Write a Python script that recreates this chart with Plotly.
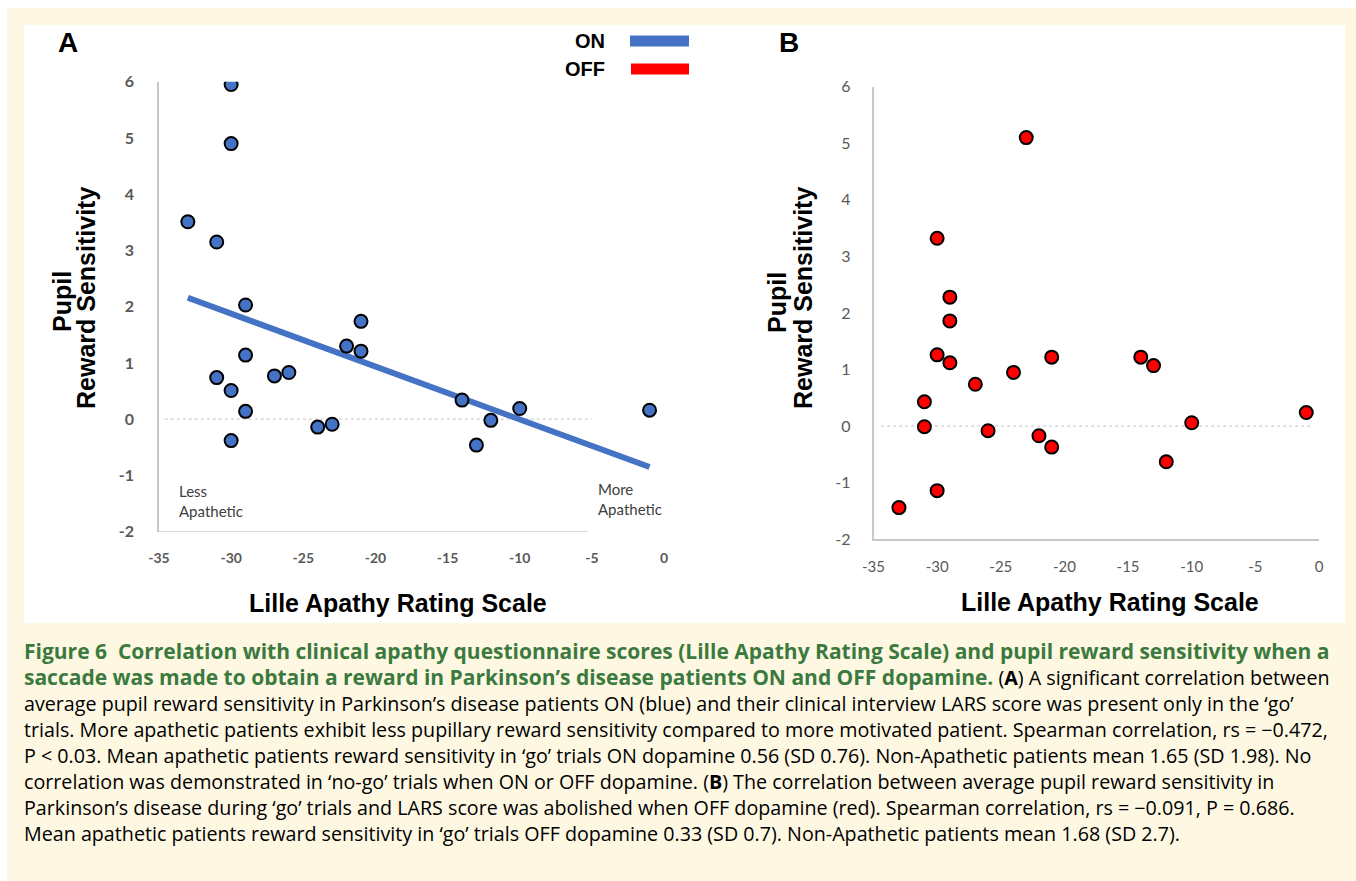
import plotly.graph_objects as go

W, H = 1356, 881

# ---------------- data ----------------
lars_on = [-30, -30, -33, -31, -29, -29, -31, -30, -29, -30, -27, -26, -24, -23, -22, -21, -21, -14, -13, -12, -10, -1]
pupil_on = [5.95, 4.9, 3.51, 3.15, 2.03, 1.14, 0.74, 0.51, 0.14, -0.38, 0.77, 0.83, -0.14, -0.09, 1.30, 1.74, 1.21, 0.34, -0.46, -0.02, 0.19, 0.16]

lars_off = [-23, -30, -29, -29, -30, -29, -27, -24, -21, -14, -13, -31, -31, -26, -22, -21, -12, -10, -1, -30, -33]
pupil_off = [5.10, 3.32, 2.28, 1.86, 1.26, 1.12, 0.74, 0.95, 1.22, 1.22, 1.07, 0.43, -0.01, -0.08, -0.17, -0.37, -0.63, 0.06, 0.24, -1.14, -1.44]

fit_on_x = [-33, -1]
fit_on_y = [2.16, -0.85]

x_tickvals = [-35, -30, -25, -20, -15, -10, -5, 0]
x_ticktext = ["-35", "-30", "-25", "-20", "-15", "-10", "-5", "0"]
y_tickvals = [-2, -1, 0, 1, 2, 3, 4, 5, 6]
y_ticktext = ["-2", "-1", "0", "1", "2", "3", "4", "5", "6"]

x_title = "Lille Apathy Rating Scale"
y_title_1 = "Pupil"
y_title_2 = "Reward Sensitivity"

GREEN = "#3b7a3f"
TSIZE = 21
BSIZE = 19.7
caption_lines = [
    f"<b><span style='color:{GREEN}'>Figure 6  Correlation with clinical apathy questionnaire scores (Lille Apathy Rating Scale) and pupil reward sensitivity when a</span></b>",
    f"<b><span style='color:{GREEN};font-size:{TSIZE}px'>saccade was made to obtain a reward in Parkinson’s disease patients ON and OFF dopamine.</span></b> (<b>A</b>) A significant correlation between",
    "average pupil reward sensitivity in Parkinson’s disease patients ON (blue) and their clinical interview LARS score was present only in the ‘go’",
    "trials. More apathetic patients exhibit less pupillary reward sensitivity compared to more motivated patient. Spearman correlation, rs = −0.472,",
    "P &lt; 0.03. Mean apathetic patients reward sensitivity in ‘go’ trials ON dopamine 0.56 (SD 0.76). Non-Apathetic patients mean 1.65 (SD 1.98). No",
    "correlation was demonstrated in ‘no-go’ trials when ON or OFF dopamine. (<b>B</b>) The correlation between average pupil reward sensitivity in",
    "Parkinson’s disease during ‘go’ trials and LARS score was abolished when OFF dopamine (red). Spearman correlation, rs = −0.091, P = 0.686.",
    "Mean apathetic patients reward sensitivity in ‘go’ trials OFF dopamine 0.33 (SD 0.7). Non-Apathetic patients mean 1.68 (SD 2.7).",
]

BLUE = "#4472c4"
RED = "#ff0000"
CREAM = "#fef8e2"
AXIS_GRAY = "#c8c8c8"
TICK_GRAY = "#595959"


def px(x):
    return x / W


def py(y):
    return 1 - y / H


fig = go.Figure()

# Panel A
fig.add_trace(go.Scatter(x=fit_on_x, y=fit_on_y, mode="lines",
                         line=dict(color=BLUE, width=6), xaxis="x", yaxis="y",
                         showlegend=False, hoverinfo="skip"))
fig.add_trace(go.Scatter(x=lars_on, y=pupil_on, mode="markers",
                         marker=dict(color=BLUE, size=13, line=dict(color="black", width=2)),
                         xaxis="x", yaxis="y", showlegend=False))
# Panel B
fig.add_trace(go.Scatter(x=lars_off, y=pupil_off, mode="markers",
                         marker=dict(color=RED, size=13, line=dict(color="black", width=2)),
                         xaxis="x2", yaxis="y2", showlegend=False))

axA_x = dict(domain=[px(159), px(664)], range=[-35, 0], tickvals=x_tickvals, ticktext=x_ticktext,
             showgrid=False, zeroline=False, showline=False, ticks="outside", ticklen=13,
             tickcolor="rgba(0,0,0,0)", tickfont=dict(family="Lato", size=14, color=TICK_GRAY, weight="bold"),
             anchor="y", fixedrange=True, automargin=False)
axA_y = dict(domain=[py(531.7), py(81.7)], range=[-2, 6], tickvals=y_tickvals, ticktext=y_ticktext,
             showgrid=False, zeroline=False, showline=True, linecolor=AXIS_GRAY, linewidth=1.5,
             ticks="outside", ticklen=20, tickcolor="rgba(0,0,0,0)",
             tickfont=dict(family="Lato", size=16, color=TICK_GRAY, weight="bold"), anchor="x",
             fixedrange=True, automargin=False)
axB_x = dict(domain=[px(873.5), px(1319)], range=[-35, 0], tickvals=x_tickvals, ticktext=x_ticktext,
             showgrid=False, zeroline=False, showline=True, linecolor=AXIS_GRAY, linewidth=1.5,
             ticks="outside", ticklen=13, tickcolor="rgba(0,0,0,0)",
             tickfont=dict(family="Lato", size=15, color=TICK_GRAY), anchor="y2", fixedrange=True,
             automargin=False)
axB_y = dict(domain=[py(539.3), py(86.7)], range=[-2, 6], tickvals=y_tickvals, ticktext=y_ticktext,
             showgrid=False, zeroline=False, showline=True, linecolor=AXIS_GRAY, linewidth=1.5,
             ticks="outside", ticklen=18, tickcolor="rgba(0,0,0,0)",
             tickfont=dict(family="Lato", size=16, color=TICK_GRAY), anchor="x2", fixedrange=True,
             automargin=False)

shapes = [
    # cream background + white panel
    dict(type="rect", xref="paper", yref="paper", x0=px(7), x1=px(1356), y0=py(881), y1=py(8),
         fillcolor=CREAM, line=dict(width=0), layer="below"),
    dict(type="rect", xref="paper", yref="paper", x0=px(24), x1=px(1345), y0=py(623), y1=py(25),
         fillcolor="white", line=dict(width=0), layer="below"),
    # panel A x axis line (stops short of 0)
    dict(type="line", xref="x", yref="y", x0=-35, x1=-5.3, y0=-2, y1=-2,
         line=dict(color=AXIS_GRAY, width=1.5)),
    # dashed zero lines
    dict(type="line", xref="x", yref="y", x0=-34.6, x1=-5, y0=0, y1=0,
         line=dict(color="#cfcfcf", width=1.2, dash="dot"), layer="below"),
    dict(type="line", xref="x2", yref="y2", x0=-34.4, x1=-0.6, y0=0, y1=0,
         line=dict(color="#cfcfcf", width=1.2, dash="dot"), layer="below"),
    # legend bars
    dict(type="line", xref="paper", yref="paper", x0=px(630), x1=px(689), y0=py(41), y1=py(41),
         line=dict(color=BLUE, width=11)),
    dict(type="line", xref="paper", yref="paper", x0=px(631), x1=px(689), y0=py(69), y1=py(69),
         line=dict(color=RED, width=11)),
]

ann = []


def add_text(text, x, y, font, xanchor="center", yanchor="middle", align="center", textangle=0):
    ann.append(dict(text=text, x=px(x), y=py(y), xref="paper", yref="paper", showarrow=False,
                    xanchor=xanchor, yanchor=yanchor, align=align, textangle=textangle, font=font))


TITLE_FONT = dict(family="Liberation Sans, Arial", size=25, color="black")
LETTER_FONT = dict(family="Liberation Sans, Arial", size=28, color="black")
LEG_FONT = dict(family="Liberation Sans Narrow, Liberation Sans", size=20, color="black")

add_text("<b>A</b>", 68, 42, LETTER_FONT)
add_text("<b>B</b>", 789, 42, LETTER_FONT)
add_text("<b>ON</b>", 607, 41, LEG_FONT, xanchor="right")
add_text("<b>OFF</b>", 607, 69, LEG_FONT, xanchor="right")
add_text(f"<b>{x_title}</b>", 398, 603, TITLE_FONT)
add_text(f"<b>{x_title}</b>", 1110, 602, TITLE_FONT)
add_text(f"<b>{y_title_1}</b>", 62, 302, TITLE_FONT, textangle=-90)
add_text(f"<b>{y_title_2}</b>", 86, 298, TITLE_FONT, textangle=-90)
add_text(f"<b>{y_title_1}</b>", 777, 302, TITLE_FONT, textangle=-90)
add_text(f"<b>{y_title_2}</b>", 803, 298, TITLE_FONT, textangle=-90)
add_text("Less<br>Apathetic", 177, 501, dict(family="Lato", size=15, color="#404040"), xanchor="left", align="left")
add_text("More<br>Apathetic", 596, 499, dict(family="Lato", size=15, color="#404040"), xanchor="left", align="left")

# caption
cap_y0, cap_dy = 651, 26.0
for i, line in enumerate(caption_lines):
    size = TSIZE if i == 0 else BSIZE
    add_text(line, 22, cap_y0 + i * cap_dy, dict(family="Open Sans", size=size, color="black"),
             xanchor="left", align="left")

fig.update_layout(
    width=W, height=H, margin=dict(l=0, r=0, t=0, b=0, autoexpand=False),
    paper_bgcolor="white", plot_bgcolor="rgba(0,0,0,0)",
    xaxis=axA_x, yaxis=axA_y, xaxis2=axB_x, yaxis2=axB_y,
    shapes=shapes, annotations=ann, showlegend=False,
)

fig.write_html("out.html", config={"displayModeBar": False},
               post_script="document.body.style.margin='0';document.body.style.overflow='hidden';")
